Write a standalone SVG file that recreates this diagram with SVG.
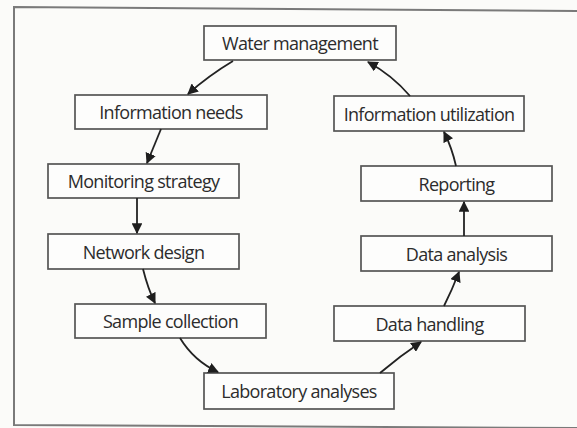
<svg xmlns="http://www.w3.org/2000/svg" width="577" height="428" viewBox="0 0 577 428">
  <defs>
    <marker id="arrow" viewBox="0 0 10 10" refX="9" refY="5" markerWidth="6" markerHeight="6" orient="auto" markerUnits="strokeWidth">
      <path d="M0,0 L10,5 L0,10 z" fill="#1e1e1e"/>
    </marker>
  </defs>
  <style>
    .box { fill: #fdfdfc; stroke: #555; stroke-width: 1.7; }
    .label { font-family: "Open Sans", "Noto Sans", sans-serif; font-size: 18px; fill: #2c2c2c; text-anchor: middle; dominant-baseline: central; letter-spacing: -0.7px; }
    .link { fill: none; stroke: #222; stroke-width: 1.8; marker-end: url(#arrow); }
    .frame { fill: none; stroke: #7a7a7a; stroke-width: 2; }
  </style>

  <rect x="0" y="0" width="577" height="428" fill="#fbfbf9"/>
  <!-- outer frame, open towards the right -->
  <path class="frame" d="M577,11 L14,7 L14,425 L577,428"/>

  <g id="water-management">
    <rect class="box" x="204" y="26" width="192" height="34"/>
    <text class="label" x="300" y="43">Water management</text>
  </g>
  <g id="information-needs">
    <rect class="box" x="75" y="95" width="192" height="34"/>
    <text class="label" x="171" y="112">Information needs</text>
  </g>
  <g id="monitoring-strategy">
    <rect class="box" x="48" y="164" width="191" height="34"/>
    <text class="label" x="143.5" y="181">Monitoring strategy</text>
  </g>
  <g id="network-design">
    <rect class="box" x="48" y="234" width="191" height="35"/>
    <text class="label" x="143.5" y="251.5">Network design</text>
  </g>
  <g id="sample-collection">
    <rect class="box" x="75" y="304" width="191" height="34"/>
    <text class="label" x="170.5" y="321">Sample collection</text>
  </g>
  <g id="laboratory-analyses">
    <rect class="box" x="204" y="373" width="190" height="36"/>
    <text class="label" x="299" y="391">Laboratory analyses</text>
  </g>
  <g id="data-handling">
    <rect class="box" x="334" y="306" width="191" height="35"/>
    <text class="label" x="429.5" y="323.5">Data handling</text>
  </g>
  <g id="data-analysis">
    <rect class="box" x="361" y="236" width="191" height="35"/>
    <text class="label" x="456.5" y="253.5">Data analysis</text>
  </g>
  <g id="reporting">
    <rect class="box" x="361" y="166" width="191" height="35"/>
    <text class="label" x="456.5" y="183.5">Reporting</text>
  </g>
  <g id="information-utilization">
    <rect class="box" x="334" y="96" width="190" height="35"/>
    <text class="label" x="429" y="113.5">Information utilization</text>
  </g>

  <g id="connectors">
    <path class="link" d="M233,61 Q208,76 188,94"/>
    <path class="link" d="M161,129 L147,163"/>
    <path class="link" d="M137,198 L137,233"/>
    <path class="link" d="M143,269 Q148,289 155,303"/>
    <path class="link" d="M180,338 Q194,361 218,372"/>
    <path class="link" d="M380,373 Q400,356 421,342"/>
    <path class="link" d="M444,306 Q452,290 459,272"/>
    <path class="link" d="M464,236 L464,202"/>
    <path class="link" d="M456,166 Q452,148 444,132"/>
    <path class="link" d="M410,96 Q392,75 368,62"/>
  </g>
</svg>
